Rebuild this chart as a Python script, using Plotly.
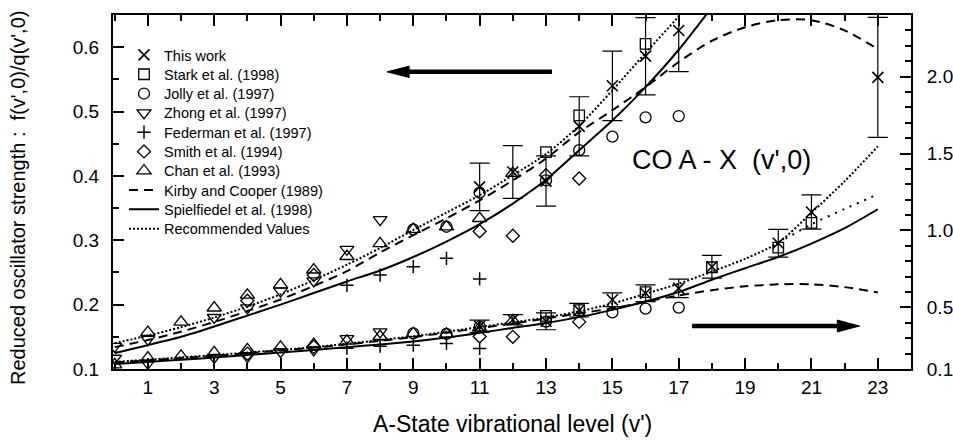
import plotly.graph_objects as go

FONT = "Arial, Liberation Sans, sans-serif"

# ---------------- data ----------------
# Upper band -> left axis
v_curve = list(range(0, 24))
kirby_up = [0.134, 0.145, 0.158, 0.173, 0.190, 0.208, 0.229, 0.252, 0.281, 0.308, 0.334, 0.362,
            0.393, 0.427, 0.468, 0.502, 0.538, 0.577, 0.610, 0.631, 0.642, 0.642, 0.626, 0.597]
v_up_short = list(range(0, 19))
spiel_up = [0.125, 0.137, 0.150, 0.166, 0.183, 0.200, 0.218, 0.236, 0.253, 0.274, 0.298, 0.325,
            0.357, 0.394, 0.440, 0.486, 0.538, 0.596, 0.662]
rec_up = [0.140, 0.152, 0.165, 0.180, 0.197, 0.216, 0.238, 0.262, 0.288, 0.316, 0.343, 0.370,
          0.401, 0.434, 0.478, 0.533, 0.591, 0.648, 0.710]

this_up_v = [11, 12, 13, 14, 15, 16, 17]
this_up = [0.383, 0.406, 0.392, 0.477, 0.540, 0.586, 0.626]
this_up_err = [0.037, 0.041, 0.039, 0.046, 0.054, 0.060, 0.064]
stark_up_v = [13, 14, 16]
stark_up = [0.437, 0.494, 0.605]
jolly_up_v = [9, 10, 11, 13, 14, 15, 16, 17]
jolly_up = [0.317, 0.321, 0.374, 0.393, 0.440, 0.461, 0.491, 0.493]
zhong_up_v = [0, 1, 3, 4, 5, 6, 7, 8]
zhong_up = [0.135, 0.146, 0.180, 0.195, 0.221, 0.237, 0.286, 0.332]
federman_up_v = [7, 8, 9, 10, 11]
federman_up = [0.230, 0.246, 0.259, 0.272, 0.240]
smith_up_v = [4, 6, 11, 12, 13, 14]
smith_up = [0.206, 0.246, 0.314, 0.307, 0.401, 0.396]
chan_up_v = [1, 2, 3, 4, 5, 6, 7, 8, 9, 10, 11, 12]
chan_up = [0.157, 0.173, 0.195, 0.215, 0.231, 0.254, 0.275, 0.295, 0.317, 0.321, 0.334, 0.404]

# Lower band -> right axis
kirby_lo = [0.142, 0.156, 0.171, 0.186, 0.203, 0.220, 0.239, 0.260, 0.283, 0.308, 0.336, 0.366,
            0.396, 0.428, 0.462, 0.494, 0.537, 0.578, 0.612, 0.637, 0.650, 0.650, 0.632, 0.597]
spiel_lo = [0.132, 0.146, 0.160, 0.175, 0.191, 0.207, 0.224, 0.242, 0.259, 0.279, 0.304, 0.335,
            0.367, 0.399, 0.437, 0.484, 0.538, 0.600, 0.680, 0.755, 0.828, 0.915, 1.015, 1.138]
rec_lo = [0.147, 0.160, 0.176, 0.190, 0.207, 0.223, 0.242, 0.264, 0.288, 0.313, 0.342, 0.373,
          0.403, 0.435, 0.475, 0.525, 0.589, 0.654, 0.733, 0.816, 0.921, 1.115, 1.320, 1.546]
v_lo_alt = [20, 21, 22, 23]
rec_lo_alt = [0.920, 1.040, 1.140, 1.235]

this_lo_v = [11, 12, 13, 14, 15, 16, 17, 18, 20, 21, 23]
this_lo = [0.378, 0.420, 0.410, 0.482, 0.550, 0.592, 0.624, 0.764, 0.917, 1.120, 1.995]
this_lo_err = [0.040, 0.033, 0.055, 0.044, 0.045, 0.054, 0.060, 0.074, 0.090, 0.111, 0.390]
stark_lo_v = [13, 14, 16, 18, 20, 21]
stark_lo = [0.445, 0.483, 0.600, 0.761, 0.889, 1.050]
jolly_lo_v = [9, 10, 11, 13, 15, 16, 17]
jolly_lo = [0.331, 0.328, 0.375, 0.408, 0.468, 0.492, 0.499]
zhong_lo_v = [0, 1, 3, 4, 5, 6, 7, 8]
zhong_lo = [0.170, 0.137, 0.175, 0.180, 0.212, 0.224, 0.298, 0.341]
federman_lo_v = [7, 8, 9, 10, 11]
federman_lo = [0.235, 0.248, 0.255, 0.266, 0.234]
smith_lo_v = [4, 6, 11, 12, 14]
smith_lo = [0.200, 0.244, 0.311, 0.309, 0.406]
chan_lo_v = [0, 1, 2, 3, 4, 5, 6, 7, 8, 9, 10, 11, 12]
chan_lo = [0.128, 0.172, 0.184, 0.206, 0.226, 0.243, 0.260, 0.282, 0.312, 0.331, 0.327, 0.368, 0.415]

x_tick_vals = [1, 3, 5, 7, 9, 11, 13, 15, 17, 19, 21, 23]
x_minor_vals = [0, 2, 4, 6, 8, 10, 12, 14, 16, 18, 20, 22, 24]
yl_tick_vals = [0.1, 0.2, 0.3, 0.4, 0.5, 0.6]
yl_tick_text = ["0.1", "0.2", "0.3", "0.4", "0.5", "0.6"]
yl_minor_vals = [0.15, 0.25, 0.35, 0.45, 0.55, 0.65]
yr_tick_vals = [0.1, 0.5, 1.0, 1.5, 2.0]
yr_tick_text = ["0.1", "0.5", "1.0", "1.5", "2.0"]
yr_minor_vals = [0.2, 0.3, 0.4, 0.6, 0.7, 0.8, 0.9, 1.1, 1.2, 1.3, 1.4, 1.6, 1.7, 1.8, 1.9, 2.1, 2.2, 2.3, 2.4]

legend_names = ["This work", "Stark et al. (1998)", "Jolly et al. (1997)", "Zhong et al. (1997)",
                "Federman et al. (1997)", "Smith et al. (1994)", "Chan et al. (1993)",
                "Kirby and Cooper (1989)", "Spielfiedel et al. (1998)", "Recommended Values"]

# ---------------- geometry helpers ----------------
W, H = 953, 447
L, R, T, B = 113, 42, 15, 78
PW, PH = W - L - R, H - T - B


def pxx(px):
    return (px - L) / PW


def pxy(py):
    return (H - B - py) / PH


fig = go.Figure()

DASH = "9px,6px"
DOT = "2px,2px"
LW = 2

legend_ids = ["legend"] + ["legend%d" % i for i in range(2, 11)]


def line(v, vals, dash, yaxis, leg=None, name=None):
    fig.add_trace(go.Scatter(
        x=v, y=vals, mode="lines", yaxis=yaxis,
        line=dict(color="black", width=LW, dash=dash, shape="spline", smoothing=0.8),
        name=name or "", showlegend=leg is not None, legend=leg or "legend", hoverinfo="skip"))


line(v_curve, kirby_up, DASH, "y", legend_ids[7], legend_names[7])
line(v_up_short, spiel_up, "solid", "y", legend_ids[8], legend_names[8])
line(v_up_short, rec_up, DOT, "y", legend_ids[9], legend_names[9])
line(v_curve, kirby_lo, DASH, "y2")
line(v_curve, spiel_lo, "solid", "y2")
line(v_curve, rec_lo, DOT, "y2")
line(v_lo_alt, rec_lo_alt, "2px,6px", "y2")


def marks(v, vals, sym, size, yaxis, leg=None, name=None, err=None, lw=1.3):
    kw = {}
    if err is not None:
        kw["error_y"] = dict(type="data", array=err, color="black", thickness=1.2, width=10)
    fig.add_trace(go.Scatter(
        x=v, y=vals, mode="markers", yaxis=yaxis,
        marker=dict(symbol=sym, size=size, color="black", line=dict(color="black", width=lw)),
        name=name or "", showlegend=leg is not None, legend=leg or "legend", **kw))


specs = [
    ("x-thin-open", 11, 1.6),
    ("square-open", 10.5, 1.3),
    ("circle-open", 11, 1.3),
    ("triangle-down-open", 12, 1.3),
    ("cross-thin-open", 9.5, 1.5),
    ("diamond-open", 10, 1.3),
    ("triangle-up-open", 12.5, 1.3),
]
up_sets = [(this_up_v, this_up, this_up_err), (stark_up_v, stark_up, None), (jolly_up_v, jolly_up, None),
           (zhong_up_v, zhong_up, None), (federman_up_v, federman_up, None), (smith_up_v, smith_up, None),
           (chan_up_v, chan_up, None)]
lo_sets = [(this_lo_v, this_lo, this_lo_err), (stark_lo_v, stark_lo, None), (jolly_lo_v, jolly_lo, None),
           (zhong_lo_v, zhong_lo, None), (federman_lo_v, federman_lo, None), (smith_lo_v, smith_lo, None),
           (chan_lo_v, chan_lo, None)]

for i, ((sym, sz, lw), (v, vals, err)) in enumerate(zip(specs, up_sets)):
    marks(v, vals, sym, sz, "y", legend_ids[i], legend_names[i], err, lw)
for (sym, sz, lw), (v, vals, err) in zip(specs, lo_sets):
    marks(v, vals, sym, sz, "y2", None, None, err, lw)

# ---------------- legends (one per row, to match row spacing) ----------------
row0, row_step = 55, 19.3
legend_left_px = 124
layout_legends = {}
for i, lid in enumerate(legend_ids):
    layout_legends[lid] = dict(
        x=pxx(legend_left_px), y=pxy(row0 + i * row_step), xanchor="left", yanchor="middle",
        bgcolor="rgba(0,0,0,0)", borderwidth=0,
        font=dict(family=FONT, size=14.5, color="black"),
        itemclick=False, itemdoubleclick=False)

axis_common = dict(showline=True, linecolor="black", linewidth=2, showgrid=False, zeroline=False,
                   ticks="inside", ticklen=11, tickwidth=2, tickcolor="black", automargin=False,
                   tickfont=dict(family=FONT, size=19, color="black"))

fig.update_layout(
    width=W, height=H, margin=dict(l=L, r=R, t=T, b=B, pad=0, autoexpand=False),
    paper_bgcolor="white", plot_bgcolor="white",
    font=dict(family=FONT, color="black"),
    xaxis=dict(range=[-0.05, 24.0], tickmode="array", tickvals=x_tick_vals, mirror="ticks",
               minor=dict(tickmode="array", tickvals=x_minor_vals, ticks="inside", ticklen=6,
                          tickwidth=2, tickcolor="black", showgrid=False),
               **axis_common),
    yaxis=dict(range=[0.1, 0.65], tickmode="array", tickvals=yl_tick_vals, ticktext=yl_tick_text,
               ticklabelstandoff=8,
               minor=dict(tickmode="array", tickvals=yl_minor_vals, ticks="inside", ticklen=6,
                          tickwidth=2, tickcolor="black", showgrid=False),
               **axis_common),
    yaxis2=dict(range=[0.1, 2.4], overlaying="y", side="right", tickmode="array",
                tickvals=yr_tick_vals, ticktext=yr_tick_text, ticklabelstandoff=10,
                minor=dict(tickmode="array", tickvals=yr_minor_vals, ticks="inside", ticklen=6,
                           tickwidth=2, tickcolor="black", showgrid=False),
                **axis_common),
    showlegend=True,
    **layout_legends,
)

# ---------------- arrows (decorations) ----------------
up_y, up_tip, up_base, up_tail, up_h = 0.5617, 8.21, 8.875, 13.18, 0.0088
lo_y, lo_tip, lo_base, lo_tail, lo_h = 0.1668, 22.45, 21.78, 17.40, 0.0092
fig.add_shape(type="line", xref="x", yref="y", x0=up_tail, x1=up_base, y0=up_y, y1=up_y,
              line=dict(color="black", width=4.5))
fig.add_shape(type="path", xref="x", yref="y", fillcolor="black", line=dict(color="black", width=1),
              path=f"M {up_base},{up_y + up_h} L {up_tip},{up_y} L {up_base},{up_y - up_h} Z")
fig.add_shape(type="line", xref="x", yref="y", x0=lo_tail, x1=lo_base, y0=lo_y, y1=lo_y,
              line=dict(color="black", width=4.5))
fig.add_shape(type="path", xref="x", yref="y", fillcolor="black", line=dict(color="black", width=1),
              path=f"M {lo_base},{lo_y + lo_h} L {lo_tip},{lo_y} L {lo_base},{lo_y - lo_h} Z")

# ---------------- texts ----------------
fig.add_annotation(text="CO A - X\u00a0\u00a0(v',0)", xref="paper", yref="paper",
                   x=pxx(721), y=pxy(160), xanchor="center", yanchor="middle", showarrow=False,
                   font=dict(family=FONT, size=27, color="black"))
fig.add_annotation(text="A-State vibrational level (v')", xref="paper", yref="paper",
                   x=pxx(512), y=pxy(424), xanchor="center", yanchor="middle", showarrow=False,
                   font=dict(family=FONT, size=23, color="black"))
fig.add_annotation(text="Reduced oscillator strength :\u00a0\u00a0f(v',0)/q(v',0)", xref="paper", yref="paper",
                   x=pxx(18), y=pxy(198), xanchor="center", yanchor="middle", showarrow=False,
                   textangle=-90, font=dict(family=FONT, size=20, color="black"))

fig.write_html("out.html")
